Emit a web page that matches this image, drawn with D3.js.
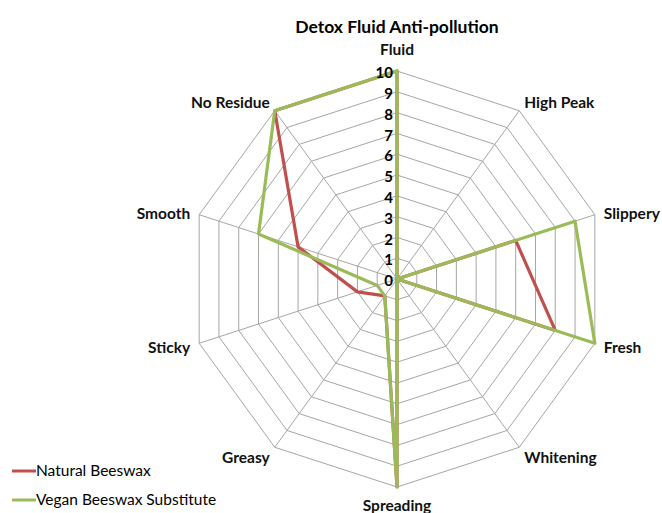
<!DOCTYPE html>
<html>
<head>
<meta charset="utf-8">
<script src="https://cdn.jsdelivr.net/npm/d3@7"></script>
<style>
  body { margin: 0; background: #fff; }
  text { font-family: Lato, "Open Sans", sans-serif; }
</style>
</head>
<body>
<div class="graph"></div>
<script>
const axes = ["Fluid", "High Peak", "Slippery", "Fresh", "Whitening", "Spreading", "Greasy", "Sticky", "Smooth", "No Residue"];
const natural = [10, 0, 6, 8, 0, 10, 1, 2, 5, 10];
const vegan = [10, 0, 9, 10, 0, 10, 1, 1, 7, 10];
const ticks = [0, 1, 2, 3, 4, 5, 6, 7, 8, 9, 10];
const seriesNames = ["Natural Beeswax", "Vegan Beeswax Substitute"];

let width = 662;
let height = 513;
let cx = 397, cy = 279;

let svg = d3.select(".graph")
  .append("svg")
  .attr("width", width)
  .attr("height", height);

let r = d3.scaleLinear().domain([0, 10]).range([0, 208]);
let angle = d3.scaleLinear().domain([0, axes.length]).range([0, 2 * Math.PI]);

// point for axis i at value v
function pt(i, v) {
  let a = angle(i);
  return [cx + r(v) * Math.sin(a), cy - r(v) * Math.cos(a)];
}

let g = svg.append("g");

// grid decagons
ticks.slice(1).forEach(function(t) {
  g.append("polygon")
    .attr("points", axes.map((d, i) => pt(i, t).join(",")).join(" "))
    .attr("fill", "none")
    .attr("stroke", "#a6a6a6")
    .attr("stroke-width", 1);
});

// spokes
g.selectAll(".spoke")
  .data(axes)
  .enter().append("line")
  .attr("x1", cx).attr("y1", cy)
  .attr("x2", (d, i) => pt(i, 10)[0])
  .attr("y2", (d, i) => pt(i, 10)[1])
  .attr("stroke", "#a6a6a6")
  .attr("stroke-width", 1);

// series
let line = d3.lineRadial()
  .angle((d, i) => angle(i))
  .radius(d => r(d))
  .curve(d3.curveLinearClosed);

let colors = ["#c0504d", "#9bbb59"];
[natural, vegan].forEach(function(s, k) {
  svg.append("path")
    .attr("transform", "translate(" + cx + "," + cy + ")")
    .attr("d", line(s))
    .attr("fill", "none")
    .attr("stroke", colors[k])
    .attr("stroke-width", 3.2)
    .attr("stroke-linejoin", "round");
});

// tick labels along the Fluid axis
svg.selectAll(".tick")
  .data(ticks)
  .enter().append("text")
  .attr("x", cx - 4)
  .attr("y", d => cy - r(d) + 2)
  .attr("dy", "0.35em")
  .attr("text-anchor", "end")
  .attr("font-size", 15)
  .attr("font-weight", "bold")
  .text(d => d);

// axis labels, offsets tuned by hand per ring position
let yOff = [-21, -8, -1, 4, 10, 19, 10, 4, -1, -8];
let xOff = [0, 5, 9, 9, 5, 0, -5, -9, -9, -5];
let labelPos = axes.map(function(d, i) {
  let p = pt(i, 10);
  let s = Math.sin(angle(i));
  let anchor = "middle";
  if (s > 0.1) anchor = "start";
  if (s < -0.1) anchor = "end";
  return {name: d, x: p[0] + xOff[i], y: p[1] + yOff[i], anchor: anchor};
});

svg.selectAll(".axlabel")
  .data(labelPos)
  .enter().append("text")
  .attr("x", d => d.x)
  .attr("y", d => d.y)
  .attr("dy", "0.35em")
  .attr("text-anchor", d => d.anchor)
  .attr("font-size", 15.5)
  .attr("font-weight", "bold")
  .attr("fill", "#111")
  .text(d => d.name);

// title
svg.append("text")
  .attr("x", 397)
  .attr("y", 33)
  .attr("text-anchor", "middle")
  .attr("font-size", 17.5)
  .attr("font-weight", "bold")
  .text("Detox Fluid Anti-pollution");

// legend
let legend = svg.selectAll(".legend")
  .data(seriesNames)
  .enter().append("g")
  .attr("transform", (d, i) => "translate(12," + (476 + i * 29) + ")");

legend.append("line")
  .attr("x1", 0).attr("x2", 24)
  .attr("y1", -5).attr("y2", -5)
  .attr("stroke", (d, i) => colors[i])
  .attr("stroke-width", 3);

legend.append("text")
  .attr("x", 24)
  .attr("y", 0)
  .attr("font-size", 15.5)
  .text(d => d);
</script>
</body>
</html>
